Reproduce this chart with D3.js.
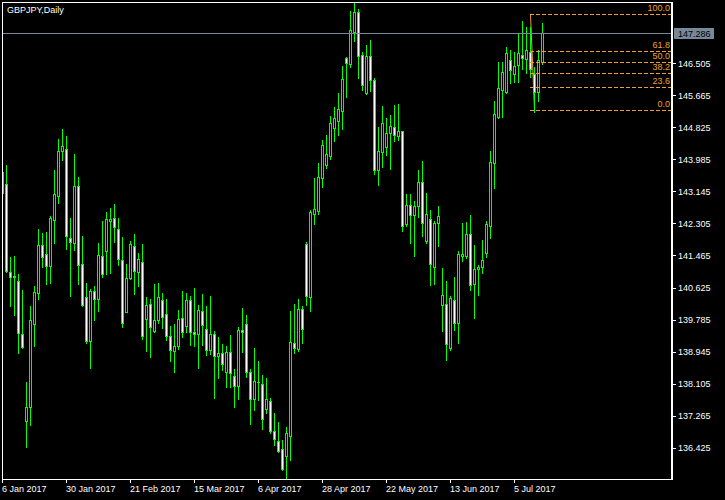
<!DOCTYPE html>
<html><head><meta charset="utf-8">
<script src="https://cdn.jsdelivr.net/npm/d3@7"></script>
<style>
html,body{margin:0;padding:0;background:#000;}
svg{display:block;}
text{font-family:"Liberation Sans",Arial,sans-serif;font-size:9px;}
</style></head><body>
<svg id="c" width="725" height="500"></svg>
<script>
const symbolTitle = "GBPJPY,Daily";
const opens = [143.11,143.33,141.02,140.93,140.79,139.40,137.13,137.50,139.68,140.49,
141.73,141.50,141.20,142.40,143.03,144.21,144.25,141.92,141.80,143.28,
141.23,140.37,139.22,140.53,140.33,141.45,141.59,142.38,142.44,142.15,
141.34,139.99,140.88,141.71,141.02,141.29,139.81,140.18,139.49,139.77,
140.29,139.92,139.35,138.95,139.10,139.82,139.62,140.29,139.45,139.40,
140.00,139.53,138.99,139.40,138.82,138.90,138.42,138.93,138.30,138.04,
139.50,139.66,138.42,137.69,138.16,138.09,137.45,137.64,136.86,136.59,
136.38,136.20,136.74,139.16,139.01,140.05,141.76,140.38,142.54,142.62,
143.50,143.85,144.08,144.82,145.00,145.26,146.63,146.49,147.33,147.84,
146.72,145.73,146.70,146.06,143.71,144.19,144.30,144.67,144.83,144.61,
144.72,142.30,142.78,142.52,142.75,143.38,141.85,142.41,141.15,142.31,
140.17,140.18,139.03,140.29,139.69,141.46,141.46,142.02,140.71,141.10,
141.15,141.52,142.23,143.90,145.10,145.80,145.76,146.60,146.22,146.45,
146.71,146.62,146.81,146.23,145.74,146.53];
const highs = [143.97,143.84,141.42,141.45,140.98,140.56,138.16,140.14,140.66,142.16,
142.05,142.08,142.50,143.71,144.52,144.78,144.60,142.45,144.13,143.52,
141.98,140.74,140.59,140.66,141.79,142.38,142.60,142.70,142.81,142.46,
141.95,141.24,141.84,142.03,141.53,141.77,140.38,140.32,140.72,140.74,
140.48,140.32,139.62,139.67,140.03,140.53,140.48,140.40,140.61,140.16,
140.45,140.14,140.40,139.48,139.33,139.15,139.10,139.38,138.48,139.59,
140.09,139.90,138.48,139.04,138.70,138.33,138.25,137.73,137.33,137.10,
136.63,136.97,140.01,140.19,140.32,140.14,141.82,142.66,143.50,143.89,
144.49,144.62,145.12,145.36,145.72,146.43,146.68,147.87,148.09,147.93,
146.80,146.98,147.11,146.11,144.83,145.38,145.07,145.15,145.41,145.44,
144.74,143.08,143.08,142.89,143.70,143.93,143.10,142.65,142.36,142.75,
141.13,140.80,140.41,140.89,141.57,142.31,142.33,142.52,141.73,141.22,
141.86,142.37,144.20,145.51,146.54,146.54,146.92,146.84,146.79,147.28,
147.60,147.46,147.46,146.41,146.84,147.55];
const lows = [142.92,141.04,140.15,139.90,138.90,139.04,136.43,137.02,139.09,140.32,
141.17,140.72,140.74,141.78,142.84,143.97,141.63,140.40,141.61,140.72,
140.14,139.17,138.51,139.77,140.01,140.91,140.98,141.00,141.83,141.22,
139.60,139.97,140.84,140.46,140.66,139.28,138.96,138.81,139.47,139.70,
139.57,139.26,138.71,138.42,139.02,139.34,139.47,139.13,139.10,138.52,
139.13,138.86,138.89,137.74,138.26,138.45,138.02,138.02,137.50,137.71,
138.94,138.29,137.05,137.41,137.68,136.92,137.34,136.81,136.50,136.32,
135.84,135.55,136.10,138.92,138.96,139.18,140.17,140.01,142.30,142.55,
143.26,143.77,143.99,144.47,144.63,144.79,145.62,146.41,147.09,146.13,
145.80,145.71,145.78,143.61,143.31,143.79,144.11,143.74,144.47,144.49,
142.11,142.24,141.80,141.46,142.48,141.98,141.79,140.70,140.72,141.72,
139.49,138.73,138.99,139.51,139.16,141.33,141.40,140.55,139.83,140.44,
141.00,141.43,141.93,143.24,145.06,145.10,145.72,145.98,146.01,146.02,
146.36,146.24,146.15,145.23,145.52,146.48];
const closes = [143.66,141.06,140.91,140.90,139.44,139.07,137.48,139.77,140.50,141.73,
141.43,141.20,142.44,143.07,144.20,144.33,141.98,141.83,143.28,141.22,
140.17,139.22,140.53,140.33,141.47,140.99,142.41,142.41,142.20,141.36,
139.69,140.87,141.76,141.05,141.36,139.35,140.16,139.58,139.77,140.37,
139.84,139.35,138.99,139.10,139.79,139.45,140.29,139.45,139.40,140.03,
139.63,138.99,139.40,138.82,138.90,138.61,138.93,138.38,138.04,139.50,
139.46,138.42,137.71,138.17,138.15,137.19,137.69,136.87,136.66,136.35,
135.87,136.80,139.19,139.05,140.05,139.53,140.41,142.61,142.68,143.52,
144.35,144.13,144.94,145.06,145.31,146.08,146.50,147.37,147.84,146.70,
145.94,146.70,146.06,143.71,144.20,144.93,144.67,144.86,144.62,144.72,
142.25,142.78,142.52,142.75,143.38,142.31,142.54,141.23,142.31,142.49,
140.42,139.14,140.34,139.69,141.50,141.50,142.02,140.68,141.10,141.17,
141.34,142.28,143.92,145.17,145.85,146.27,146.77,146.32,146.43,146.78,
146.63,146.84,146.35,145.74,146.58,147.286];
const xTickIndex = [0,16,32,48,64,80,96,112,128];
const xTickLabels = ["6 Jan 2017","30 Jan 2017","21 Feb 2017","15 Mar 2017","6 Apr 2017","28 Apr 2017","22 May 2017","13 Jun 2017","5 Jul 2017"];
const yTickValues = [136.425,137.265,138.105,138.945,139.785,140.625,141.465,142.305,143.145,143.985,144.825,145.665,146.505];
const fibLevels = [0,23.6,38.2,50,61.8,100];
const fibHigh = 147.788, fibLow = 145.279;
const fibStartBar = 132, fibEndBar = 133;

const W=725, H=500, L=2, R=672, T=2, B=479;
const GREEN="#00ff00", ORANGE="#f0a030", GREY="#778899";
const svg = d3.select("#c");
svg.append("rect").attr("width",W).attr("height",H).attr("fill","#000");

const x = d3.scaleLinear().domain([0,1]).range([2,6]);
const y = d3.scaleLinear().domain([135.604,148.111]).range([B,T]);

svg.append("clipPath").attr("id","plot").append("rect")
  .attr("x",L+1).attr("y",T+1).attr("width",R-L-2).attr("height",B-T-1);
const g = svg.append("g").attr("clip-path","url(#plot)").attr("shape-rendering","crispEdges");

const data = opens.map((o,i)=>({i,o,h:highs[i],l:lows[i],c:closes[i]}));

// fib trend line (under candles)
g.append("line")
  .attr("x1",x(fibStartBar)+0.5).attr("y1",y(fibHigh))
  .attr("x2",x(fibEndBar)+0.5).attr("y2",y(fibLow))
  .attr("stroke",ORANGE).attr("stroke-width",1).attr("shape-rendering","auto");

// wicks
g.selectAll("line.wick").data(data).join("line").attr("class","wick")
  .attr("x1",d=>x(d.i)+0.5).attr("x2",d=>x(d.i)+0.5)
  .attr("y1",d=>Math.round(y(d.h))).attr("y2",d=>Math.round(y(d.l))+1)
  .attr("stroke",GREEN);

// bodies
data.forEach(d=>{
  const top=Math.round(y(Math.max(d.o,d.c))), bot=Math.round(y(Math.min(d.o,d.c)));
  const fill = d.c>=d.o ? "#000" : "#fff";
  if(bot-top>=1){
    g.append("rect").attr("x",x(d.i)-0.5).attr("y",top+0.5).attr("width",2).attr("height",bot-top)
      .attr("fill",fill).attr("stroke",GREEN);
  } else {
    g.append("line").attr("x1",x(d.i)-1).attr("x2",x(d.i)+2).attr("y1",top+0.5).attr("y2",top+0.5)
      .attr("stroke",GREEN);
  }
});

// fib levels
const fg = svg.append("g");
fibLevels.forEach(lv=>{
  const p = fibLow + (fibHigh-fibLow)*lv/100;
  const yy = Math.round(y(p))+0.5;
  fg.append("line").attr("x1",x(fibStartBar)).attr("x2",R-1).attr("y1",yy).attr("y2",yy)
    .attr("stroke",ORANGE).attr("stroke-dasharray","4,2").attr("shape-rendering","crispEdges");
  fg.append("text").attr("x",670).attr("y",yy-4).attr("text-anchor","end")
    .attr("fill",ORANGE).text(lv.toFixed(1));
});

// bid line
const bid = closes[closes.length-1];
const by = Math.round(y(bid))+0.5;
svg.append("line").attr("x1",L).attr("x2",R-1).attr("y1",by).attr("y2",by)
  .attr("stroke",GREY).attr("shape-rendering","crispEdges");

// frame
const fr = svg.append("g").attr("shape-rendering","crispEdges").attr("stroke","#fff");
fr.append("line").attr("x1",L).attr("x2",R).attr("y1",T+0.5).attr("y2",T+0.5);
fr.append("line").attr("x1",L+0.5).attr("x2",L+0.5).attr("y1",T).attr("y2",B+1);
fr.append("line").attr("x1",L).attr("x2",R+1).attr("y1",B+0.5).attr("y2",B+0.5);
svg.append("rect").attr("x",R-1).attr("y",T).attr("width",2).attr("height",B-T+1).attr("fill","#fff");

// y axis
const ya = d3.axisRight(y).tickValues(yTickValues).tickFormat(d3.format(".3f")).tickSize(4).tickPadding(2);
const yg = svg.append("g").attr("transform",`translate(${R},0)`).call(ya);
yg.select(".domain").remove();
yg.selectAll(".tick line").attr("stroke","#fff").attr("shape-rendering","crispEdges");
yg.selectAll(".tick text").attr("fill","#fff").style("font-family",'"Liberation Sans",Arial,sans-serif').style("font-size","9px");

// bid label
svg.append("rect").attr("x",674).attr("y",by-5.5).attr("width",40).attr("height",11).attr("fill",GREY);
svg.append("text").attr("x",678).attr("y",by+3.2).attr("fill","#000").text(d3.format(".3f")(bid));

// x axis
const xa = d3.axisBottom(x).tickValues(xTickIndex).tickFormat((d,k)=>xTickLabels[k]).tickSize(4);
const xg = svg.append("g").attr("transform",`translate(0,${B})`).call(xa);
xg.select(".domain").remove();
xg.selectAll(".tick line").attr("stroke","#fff").attr("shape-rendering","crispEdges");
xg.selectAll(".tick text").attr("fill","#fff").attr("text-anchor","start").attr("x",-0.5)
  .style("font-family",'"Liberation Sans",Arial,sans-serif').style("font-size","9px");

// title
svg.append("text").attr("x",7).attr("y",12.5).attr("fill","#fff").text(symbolTitle);
</script>
</body></html>
